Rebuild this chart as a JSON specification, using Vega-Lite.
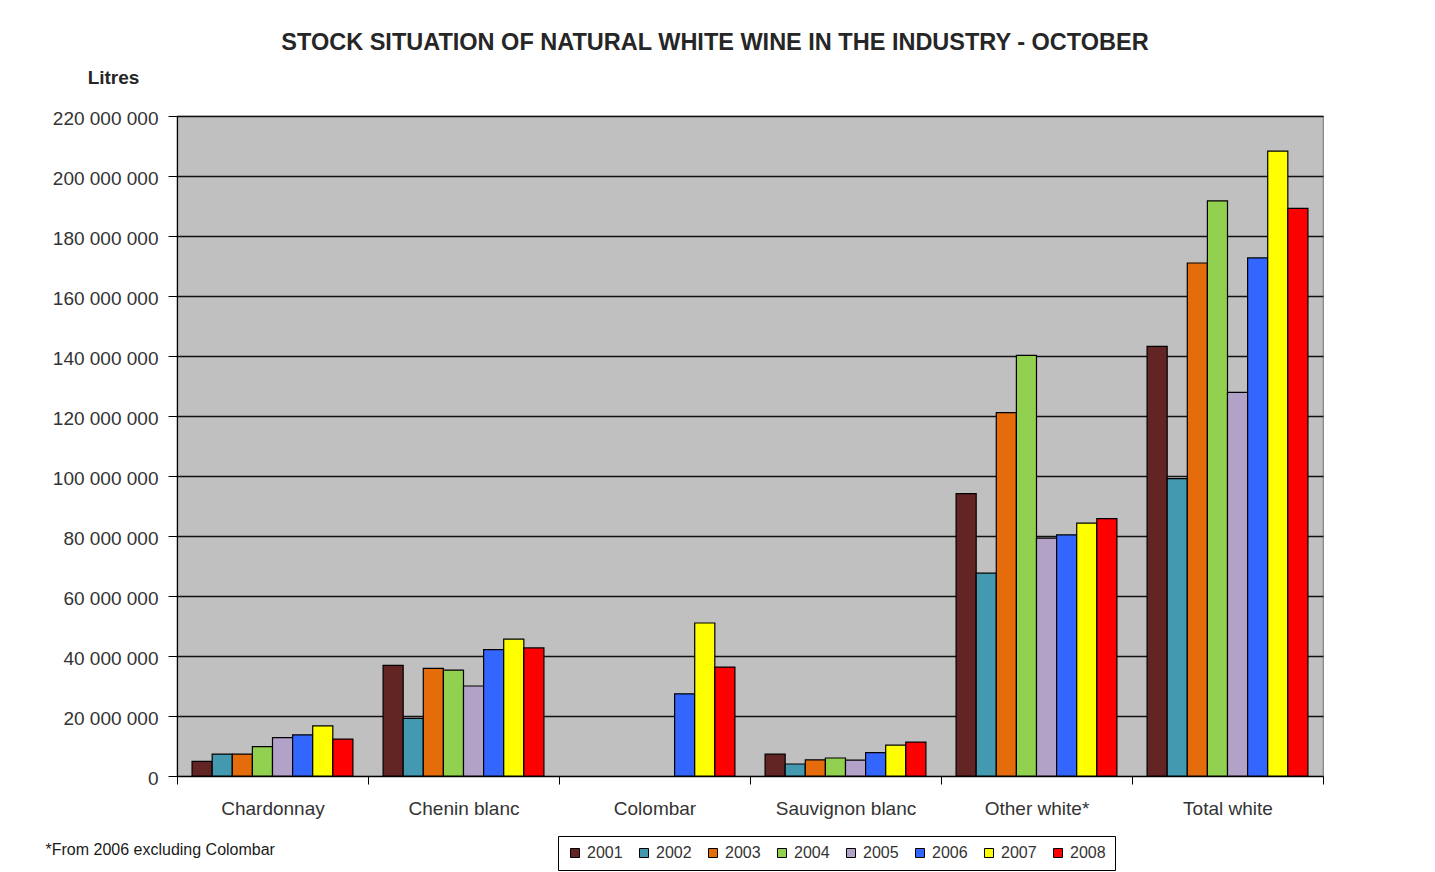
{
  "$schema": "https://vega.github.io/schema/vega-lite/v6.json",
  "autosize": {"type": "none"},
  "padding": {"left": 177, "top": 116, "right": 112, "bottom": 96},
  "width": 1146,
  "height": 660,
  "background": "white",
  "title": {
    "text": "STOCK SITUATION OF NATURAL WHITE WINE IN THE INDUSTRY - OCTOBER",
    "font": "Liberation Sans",
    "fontSize": 23.5,
    "fontWeight": "bold",
    "color": "#262626",
    "anchor": "middle",
    "frame": "group",
    "dx": -35,
    "offset": 14
  },
  "data": {
    "values": [
      {"cat": "Chardonnay", "year": "2001", "v": 4900000},
      {"cat": "Chardonnay", "year": "2002", "v": 7300000},
      {"cat": "Chardonnay", "year": "2003", "v": 7300000},
      {"cat": "Chardonnay", "year": "2004", "v": 9800000},
      {"cat": "Chardonnay", "year": "2005", "v": 12800000},
      {"cat": "Chardonnay", "year": "2006", "v": 13700000},
      {"cat": "Chardonnay", "year": "2007", "v": 16700000},
      {"cat": "Chardonnay", "year": "2008", "v": 12300000},
      {"cat": "Chenin blanc", "year": "2001", "v": 36900000},
      {"cat": "Chenin blanc", "year": "2002", "v": 19200000},
      {"cat": "Chenin blanc", "year": "2003", "v": 35900000},
      {"cat": "Chenin blanc", "year": "2004", "v": 35300000},
      {"cat": "Chenin blanc", "year": "2005", "v": 30000000},
      {"cat": "Chenin blanc", "year": "2006", "v": 42100000},
      {"cat": "Chenin blanc", "year": "2007", "v": 45600000},
      {"cat": "Chenin blanc", "year": "2008", "v": 42700000},
      {"cat": "Colombar", "year": "2006", "v": 27400000},
      {"cat": "Colombar", "year": "2007", "v": 51000000},
      {"cat": "Colombar", "year": "2008", "v": 36300000},
      {"cat": "Sauvignon blanc", "year": "2001", "v": 7300000},
      {"cat": "Sauvignon blanc", "year": "2002", "v": 4000000},
      {"cat": "Sauvignon blanc", "year": "2003", "v": 5400000},
      {"cat": "Sauvignon blanc", "year": "2004", "v": 6000000},
      {"cat": "Sauvignon blanc", "year": "2005", "v": 5300000},
      {"cat": "Sauvignon blanc", "year": "2006", "v": 7800000},
      {"cat": "Sauvignon blanc", "year": "2007", "v": 10300000},
      {"cat": "Sauvignon blanc", "year": "2008", "v": 11300000},
      {"cat": "Other white*", "year": "2001", "v": 94100000},
      {"cat": "Other white*", "year": "2002", "v": 67600000},
      {"cat": "Other white*", "year": "2003", "v": 121100000},
      {"cat": "Other white*", "year": "2004", "v": 140200000},
      {"cat": "Other white*", "year": "2005", "v": 79300000},
      {"cat": "Other white*", "year": "2006", "v": 80400000},
      {"cat": "Other white*", "year": "2007", "v": 84300000},
      {"cat": "Other white*", "year": "2008", "v": 85800000},
      {"cat": "Total white", "year": "2001", "v": 143200000},
      {"cat": "Total white", "year": "2002", "v": 99100000},
      {"cat": "Total white", "year": "2003", "v": 171000000},
      {"cat": "Total white", "year": "2004", "v": 191700000},
      {"cat": "Total white", "year": "2005", "v": 127900000},
      {"cat": "Total white", "year": "2006", "v": 172700000},
      {"cat": "Total white", "year": "2007", "v": 208300000},
      {"cat": "Total white", "year": "2008", "v": 189200000}
    ]
  },
  "mark": {"type": "bar", "stroke": "black", "strokeWidth": 1.2},
  "encoding": {
    "x": {
      "field": "cat",
      "type": "nominal",
      "sort": ["Chardonnay", "Chenin blanc", "Colombar", "Sauvignon blanc", "Other white*", "Total white"],
      "scale": {"paddingInner": 0, "paddingOuter": 0},
      "axis": {
        "title": "*From 2006 excluding Colombar",
        "titleX": -132,
        "titleY": 73,
        "titleAlign": "left",
        "titleBaseline": "middle",
        "titleAngle": 0,
        "titleFont": "Liberation Sans",
        "titleFontSize": 16,
        "titleFontWeight": "normal",
        "titleColor": "#1a1a1a",
        "labelAngle": 0,
        "labelFont": "Liberation Sans",
        "labelFontSize": 19,
        "labelColor": "#333333",
        "labelPadding": 15,
        "tickBand": "extent",
        "tickSize": 8,
        "tickColor": "black",
        "domainColor": "black",
        "domainWidth": 1.2,
        "grid": false
      }
    },
    "xOffset": {
      "field": "year",
      "type": "nominal",
      "scale": {"paddingInner": 0, "paddingOuter": 0.75}
    },
    "y": {
      "field": "v",
      "type": "quantitative",
      "scale": {"domain": [0, 220000000], "nice": false},
      "axis": {
        "title": "Litres",
        "titleAngle": 0,
        "titleX": -64,
        "titleY": -39,
        "titleAlign": "center",
        "titleBaseline": "middle",
        "titleFont": "Liberation Sans",
        "titleFontSize": 19,
        "titleFontWeight": "bold",
        "titleColor": "#262626",
        "values": [0, 20000000, 40000000, 60000000, 80000000, 100000000, 120000000, 140000000, 160000000, 180000000, 200000000, 220000000],
        "format": ",d",
        "labelFont": "Liberation Sans",
        "labelFontSize": 19,
        "labelColor": "#333333",
        "labelPadding": 10,
        "labelOffset": 2,
        "tickSize": 9,
        "tickColor": "black",
        "domainColor": "black",
        "domainWidth": 1.2,
        "grid": true,
        "gridColor": "#111111",
        "gridWidth": 1.5
      }
    },
    "fill": {
      "field": "year",
      "type": "nominal",
      "scale": {
        "domain": ["2001", "2002", "2003", "2004", "2005", "2006", "2007", "2008"],
        "range": ["#632523", "#4299B0", "#E46C0A", "#92D050", "#B2A2C7", "#3366FF", "#FFFF00", "#FF0000"]
      },
      "legend": {
        "title": null,
        "orient": "none",
        "legendX": 381,
        "legendY": 720,
        "direction": "horizontal",
        "columns": 8,
        "symbolType": "square",
        "symbolSize": 81,
        "symbolStrokeColor": "black",
        "symbolStrokeWidth": 1,
        "labelFont": "Liberation Sans",
        "labelFontSize": 16,
        "labelColor": "#333333",
        "labelOffset": 4,
        "columnPadding": 13,
        "padding": 9,
        "strokeColor": "black",
        "fillColor": "white"
      }
    }
  },
  "config": {
    "locale": {"number": {"decimal": ".", "thousands": " ", "grouping": [3], "currency": ["", ""]}},
    "view": {"fill": "#C0C0C0", "stroke": "#808080", "strokeWidth": 1.2}
  }
}
